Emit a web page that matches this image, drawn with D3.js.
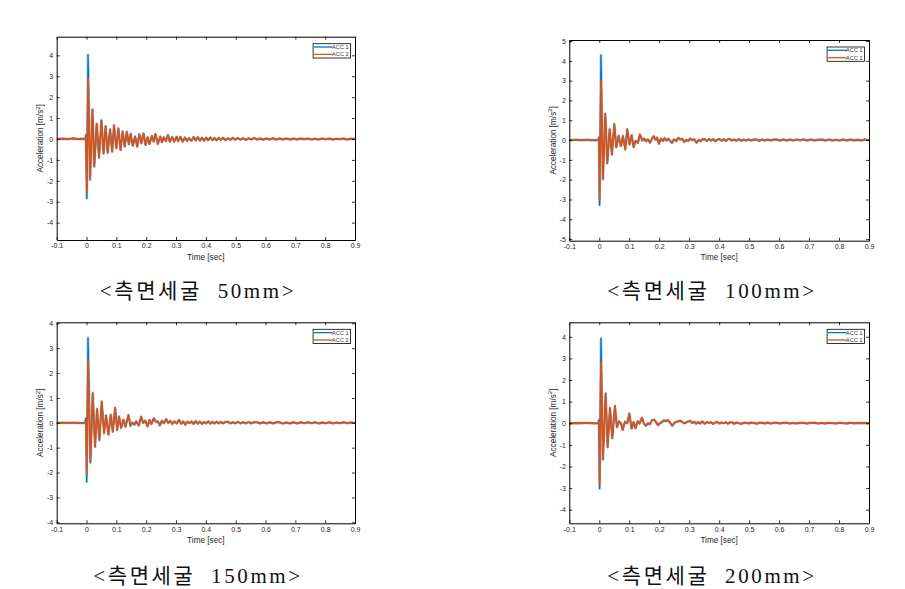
<!DOCTYPE html>
<html><head><meta charset="utf-8">
<script src="https://cdn.jsdelivr.net/npm/d3@7"></script>
<style>body{margin:0;background:#fff;} svg{display:block;}</style>
</head><body>
<svg id="c" width="905" height="589"></svg>
<script>
// ---------------- DATA ----------------
const seriesNames = ["ACC 1", "ACC 2"];
const captions = ["<측면세굴  50mm>", "<측면세굴  100mm>", "<측면세굴  150mm>", "<측면세굴  200mm>"];
const xLabel = "Time [sec]";
const yLabelMain = "Acceleration [m/s";
const yLabelSup = "2";
const yLabelEnd = "]";
const xTicks = [-0.1, 0, 0.1, 0.2, 0.3, 0.4, 0.5, 0.6, 0.7, 0.8, 0.9];
const xTickLabels = ["-0.1", "0", "0.1", "0.2", "0.3", "0.4", "0.5", "0.6", "0.7", "0.8", "0.9"];
const yTicks4 = [-4, -3, -2, -1, 0, 1, 2, 3, 4];
const yTicks5 = [-5, -4, -3, -2, -1, 0, 1, 2, 3, 4, 5];
const xLimits = [-0.1, 0.9];
const yLimits = [[-4.83, 4.89], [-5.08, 5.05], [-4.04, 4.04], [-4.63, 4.67]];

const tailTime = [
  0.352, 0.359, 0.366, 0.373, 0.380, 0.387, 0.394, 0.401, 0.408, 0.415,
  0.422, 0.429, 0.436, 0.443, 0.450, 0.458, 0.466, 0.474, 0.482, 0.490,
  0.498, 0.507, 0.516, 0.525, 0.534, 0.543, 0.552, 0.562, 0.572, 0.582,
  0.592, 0.603, 0.614, 0.625, 0.636, 0.647, 0.658, 0.670, 0.682, 0.694,
  0.706, 0.718, 0.730, 0.742, 0.754, 0.766, 0.778, 0.790, 0.802, 0.814,
  0.826, 0.838, 0.850, 0.862, 0.874, 0.886, 0.900];

// Panel 1 (50mm)
const p1Time = [
  -0.1, -0.08, -0.06, -0.045, -0.03, -0.015, -0.004, -0.002,
  0.001, 0.005, 0.012, 0.020, 0.026, 0.034, 0.042, 0.050, 0.057, 0.064,
  0.071, 0.079, 0.086, 0.092, 0.100, 0.107, 0.114, 0.121, 0.128, 0.135,
  0.142, 0.148, 0.155, 0.163, 0.170, 0.177, 0.184, 0.191, 0.198, 0.205,
  0.211, 0.219, 0.225, 0.231, 0.239, 0.247, 0.253, 0.259, 0.266, 0.273,
  0.279, 0.287, 0.294, 0.302, 0.307, 0.315, 0.322, 0.330, 0.337, 0.343].concat(tailTime);
const p1Acc1 = [
  0, 0.01, 0, 0.02, -0.01, 0, 0, 0.2,
  -2.84, 4.02, -1.95, 1.42, -1.32, 0.70, -0.90, 0.90, -0.70, 0.60,
  -0.66, 0.47, -0.60, 0.66, -0.44, 0.50, -0.52, 0.36, -0.35, 0.34,
  -0.26, 0.25, -0.32, 0.12, -0.36, 0.23, -0.20, 0.26, -0.28, 0.09,
  -0.23, 0.15, -0.12, 0.23, -0.23, 0.12, -0.15, 0.09, -0.11, 0.18,
  -0.12, 0.09, -0.12, 0.11, -0.10, 0.10, -0.12, 0.07, -0.09, 0.04,
  -0.08, 0.09, -0.07, 0.09, -0.07, 0.06, -0.08, 0.06, -0.06, 0.07,
  -0.05, 0.05, -0.06, 0.05, -0.05, 0.06, -0.05, 0.04, -0.04, 0.05,
  -0.04, 0.04, -0.03, 0.04, -0.04, 0.03, -0.03, 0.05, -0.02, 0.02,
  -0.03, 0.03, -0.02, 0.03, -0.03, 0.02, -0.02, 0.03, -0.03, 0.02,
  -0.02, 0.03, -0.01, 0.02, -0.03, 0.01, -0.02, 0.03, -0.01, 0.02,
  -0.03, 0.02, -0.01, 0.02, -0.03, 0.01, 0.0];
const p1Acc2 = [
  0, 0.02, -0.01, 0.04, 0, 0.01, 0, 0.05,
  -2.52, 2.90, -1.88, 1.39, -1.29, 0.75, -0.88, 0.88, -0.69, 0.62,
  -0.65, 0.45, -0.62, 0.65, -0.45, 0.51, -0.53, 0.35, -0.36, 0.35,
  -0.25, 0.24, -0.33, 0.11, -0.37, 0.22, -0.21, 0.27, -0.29, 0.08,
  -0.24, 0.14, -0.13, 0.24, -0.24, 0.11, -0.16, 0.08, -0.10, 0.19,
  -0.13, 0.08, -0.13, 0.10, -0.10, 0.11, -0.13, 0.06, -0.10, 0.03,
  -0.09, 0.10, -0.06, 0.08, -0.08, 0.05, -0.09, 0.07, -0.05, 0.08,
  -0.06, 0.04, -0.07, 0.06, -0.04, 0.05, -0.06, 0.03, -0.05, 0.06,
  -0.03, 0.05, -0.04, 0.03, -0.05, 0.04, -0.02, 0.04, -0.03, 0.03,
  -0.04, 0.02, -0.03, 0.04, -0.02, 0.03, -0.03, 0.02, -0.02, 0.03,
  -0.03, 0.02, -0.02, 0.03, -0.02, 0.02, -0.03, 0.02, -0.02, 0.03,
  -0.02, 0.01, -0.02, 0.03, -0.02, 0.02, 0.0];

// Panel 2 (100mm)
const p2Time = [
  -0.1, -0.08, -0.06, -0.04, -0.02, -0.004, -0.001,
  0.001, 0.0057, 0.0123, 0.0201, 0.0268, 0.0346, 0.0423, 0.0501, 0.0568, 0.0645,
  0.0723, 0.079, 0.0868, 0.0934, 0.101, 0.108, 0.1145, 0.121, 0.129, 0.1357,
  0.1434, 0.149, 0.1557, 0.1623, 0.169, 0.1746, 0.1812, 0.1879, 0.1923, 0.199,
  0.2057, 0.2123, 0.2179, 0.2235, 0.2301, 0.2368, 0.2424, 0.249, 0.2568, 0.2635,
  0.2701, 0.2768, 0.2835, 0.29, 0.2968, 0.3035, 0.31, 0.3168, 0.3245, 0.3312,
  0.3379, 0.3434].concat(tailTime);
const p2Acc1 = [
  0, 0.02, 0, 0.01, -0.01, 0, 0.15,
  -3.28, 4.29, -1.98, 1.33, -1.18, 0.55, -0.74, 0.82, -0.37, 0.22,
  -0.30, 0.21, -0.47, 0.55, -0.23, 0.25, -0.35, -0.04, -0.15, 0.28,
  -0.03, 0.08, -0.06, 0.04, -0.13, 0.03, 0.19, 0.01, 0.13, -0.18,
  0.08, -0.04, 0.10, -0.03, 0.06, -0.04, -0.14, 0.04, -0.06, 0.11,
  0.03, 0.06, -0.09, 0.01, -0.04, 0.08, -0.01, 0.04, -0.13, 0.01,
  -0.06, 0.02,
  0.04, -0.05, 0.05, -0.03, 0.05, -0.05, 0.03, 0.04, -0.04, 0.05,
  -0.04, 0.04, 0.05, -0.03, 0.03, -0.03, 0.04, -0.04, 0.02, -0.03,
  0.03, -0.02, 0.03, 0.02, -0.03, 0.03, -0.03, 0.02, -0.02, 0.03,
  0.02, -0.03, 0.03, -0.02, 0.02, -0.03, 0.03, -0.01, 0.03, -0.03,
  0.03, -0.02, 0.01, 0.02, -0.03, 0.03, -0.02, 0.01, -0.03, 0.02,
  -0.03, 0.03, -0.02, 0.01, -0.03, 0.03, 0.0];
const p2Acc2 = [
  0, 0.01, -0.01, 0.02, 0, 0.01, 0.05,
  -3.03, 3.04, -1.92, 1.31, -1.16, 0.54, -0.73, 0.80, -0.36, 0.20,
  -0.31, 0.20, -0.48, 0.54, -0.22, 0.24, -0.36, -0.05, -0.14, 0.29,
  -0.02, 0.07, -0.05, 0.03, -0.14, 0.02, 0.20, 0.02, 0.12, -0.19,
  0.07, -0.05, 0.09, -0.02, 0.07, -0.05, -0.15, 0.03, -0.05, 0.12,
  0.02, 0.07, -0.10, 0.0, -0.05, 0.07, 0.0, 0.03, -0.14, 0.0,
  -0.05, 0.03,
  0.05, -0.04, 0.06, -0.02, 0.04, -0.06, 0.02, 0.05, -0.03, 0.04,
  -0.05, 0.03, 0.06, -0.02, 0.02, -0.04, 0.05, -0.03, 0.03, -0.02,
  0.04, -0.03, 0.02, 0.03, -0.04, 0.02, -0.02, 0.03, -0.03, 0.02,
  0.03, -0.02, 0.02, -0.03, 0.03, -0.02, 0.02, -0.02, 0.04, -0.02,
  0.02, -0.03, 0.02, 0.03, -0.02, 0.02, -0.03, 0.02, -0.02, 0.03,
  -0.02, 0.02, -0.03, 0.02, -0.02, 0.02, 0.0];

// Panel 3 (150mm)
const p3Time = [
  -0.1, -0.08, -0.06, -0.04, -0.02, -0.005, -0.0017,
  0.0006, 0.005, 0.0129, 0.0207, 0.0286, 0.0353, 0.0431, 0.051, 0.0588, 0.0655,
  0.0734, 0.0812, 0.0879, 0.0958, 0.1025, 0.1092, 0.1159, 0.1238, 0.1305, 0.1406,
  0.1473, 0.154, 0.1607, 0.1663, 0.1753, 0.1831, 0.1898, 0.1966, 0.2044, 0.2111,
  0.2178, 0.2257, 0.2324, 0.2391, 0.2458, 0.2526, 0.2593, 0.2671, 0.2738, 0.2806,
  0.2873, 0.294, 0.303, 0.3097, 0.3175, 0.3242, 0.331, 0.3377, 0.3455].concat(tailTime);
const p3Acc1 = [
  0, 0, 0.01, 0, -0.01, 0, 0.19,
  -2.37, 3.41, -1.60, 1.20, -0.97, 0.55, -0.70, 0.86, -0.42, 0.30,
  -0.47, 0.33, -0.36, 0.60, -0.29, 0.26, -0.20, 0.13, -0.16, 0.31,
  -0.12, 0.01, -0.07, 0.06, -0.11, 0.24, 0.0, 0.09, -0.14, 0.11,
  -0.05, 0.18, 0.04, 0.06, -0.10, 0.09, -0.02, 0.14, 0.0, 0.07,
  -0.05, 0.06, -0.02, 0.11, -0.04, 0.06, -0.07, 0.04, -0.02,
  0.05, -0.05, 0.06, -0.04, 0.06, -0.04, 0.03, -0.03, 0.05, -0.03,
  0.04, -0.02, 0.04, -0.03, 0.03, -0.02, 0.04, 0.04, -0.03, 0.02,
  -0.02, 0.03, -0.03, 0.02, -0.03, 0.03, -0.02, 0.03, 0.02, -0.03,
  0.03, -0.02, 0.02, -0.03, 0.03, 0.02, -0.03, 0.01, -0.02, 0.03,
  -0.03, 0.02, -0.01, 0.03, -0.02, 0.02, -0.03, 0.01, -0.01, 0.03,
  -0.02, 0.01, -0.02, 0.03, -0.01, 0.02, 0.0];
const p3Acc2 = [
  0, 0.01, -0.01, 0.01, 0, 0.01, 0.05,
  -2.08, 2.52, -1.55, 1.19, -0.95, 0.56, -0.68, 0.85, -0.41, 0.29,
  -0.48, 0.32, -0.35, 0.61, -0.28, 0.25, -0.21, 0.12, -0.15, 0.32,
  -0.11, 0.0, -0.08, 0.05, -0.10, 0.25, -0.01, 0.08, -0.15, 0.12,
  -0.04, 0.19, 0.05, 0.05, -0.11, 0.08, -0.01, 0.15, -0.01, 0.08,
  -0.04, 0.05, -0.03, 0.12, -0.03, 0.05, -0.08, 0.05, -0.01,
  0.06, -0.04, 0.07, -0.03, 0.05, -0.05, 0.04, -0.02, 0.06, -0.04,
  0.03, -0.03, 0.05, -0.02, 0.04, -0.03, 0.03, 0.05, -0.02, 0.03,
  -0.03, 0.04, -0.02, 0.03, -0.02, 0.04, -0.03, 0.02, 0.03, -0.02,
  0.02, -0.03, 0.03, -0.02, 0.02, 0.03, -0.02, 0.02, -0.03, 0.02,
  -0.02, 0.03, -0.02, 0.02, -0.01, 0.03, -0.02, 0.02, -0.02, 0.02,
  -0.03, 0.02, -0.01, 0.02, -0.02, 0.01, 0.0];

// Panel 4 (200mm)
const p4Time = [
  -0.1, -0.08, -0.06, -0.04, -0.02, -0.004, -0.001,
  0.0012, 0.0057, 0.0123, 0.0212, 0.0279, 0.0357, 0.0434, 0.0523, 0.059, 0.0657,
  0.0723, 0.0779, 0.0857, 0.0934, 0.1001, 0.1079, 0.1146, 0.1212, 0.1279, 0.1346,
  0.1424, 0.149, 0.1557, 0.1624, 0.169, 0.1757, 0.1824, 0.189, 0.1957, 0.2024,
  0.209, 0.2157, 0.2224, 0.229, 0.2368, 0.2435, 0.2501, 0.2568, 0.2635, 0.2701,
  0.2768, 0.2835, 0.2901, 0.2968, 0.3035, 0.3101, 0.3168, 0.3235, 0.3301, 0.3368,
  0.3435].concat(tailTime);
const p4Acc1 = [
  0, 0, 0.01, 0.01, -0.01, 0, 0.15,
  -3.02, 3.92, -1.68, 1.38, -1.12, 0.71, -0.70, 0.79, -0.19, 0.08,
  -0.01, -0.31, 0.07, 0.01, 0.44, -0.24, 0.05, -0.23, 0.10, -0.01,
  0.25, -0.01, -0.11, 0.0, -0.04, 0.13, 0.16, 0.07, -0.08, 0.0,
  0.05, 0.13, 0.10, 0.14, 0.02, -0.11, 0.0, 0.07, 0.08, 0.11,
  0.07, -0.01, 0.04, 0.08, 0.10, 0.01, 0.07, -0.02, 0.05, -0.01,
  0.08,
  -0.02, 0.05, 0.02, 0.04, -0.03, 0.04, 0.05, -0.01, 0.03, 0.01,
  0.04, -0.02, 0.04, 0.04, -0.03, 0.03, 0.01, -0.03, 0.02, 0.03,
  -0.01, 0.03, 0.02, -0.02, 0.02, 0.03, -0.01, 0.03, -0.02, 0.03,
  0.02, -0.01, 0.03, 0.02, -0.02, 0.01, -0.01, 0.02, 0.02, -0.01,
  0.03, 0.02, -0.02, 0.01, -0.01, 0.03, 0.0, -0.01, 0.03, 0.0,
  -0.01, 0.03, -0.01, 0.01, 0.0, 0.01, 0.0];
const p4Acc2 = [
  0, 0.01, -0.01, 0.02, 0, 0.01, 0.05,
  -2.87, 2.84, -1.64, 1.37, -1.10, 0.70, -0.68, 0.80, -0.18, 0.09,
  0.0, -0.30, 0.06, 0.0, 0.45, -0.25, 0.06, -0.22, 0.09, -0.02,
  0.26, -0.02, -0.12, -0.01, -0.05, 0.14, 0.17, 0.06, -0.09, -0.01,
  0.06, 0.14, 0.09, 0.15, 0.01, -0.12, 0.01, 0.06, 0.09, 0.12,
  0.06, 0.0, 0.03, 0.09, 0.11, 0.02, 0.06, -0.03, 0.06, -0.02,
  0.09,
  -0.03, 0.06, 0.01, 0.05, -0.04, 0.03, 0.06, -0.02, 0.04, 0.0,
  0.05, -0.03, 0.03, 0.05, -0.02, 0.04, 0.0, -0.04, 0.03, 0.02,
  -0.02, 0.04, 0.01, -0.03, 0.03, 0.02, -0.02, 0.04, -0.01, 0.02,
  0.03, -0.02, 0.02, 0.03, -0.01, 0.02, -0.02, 0.03, 0.01, -0.02,
  0.02, 0.03, -0.01, 0.02, -0.02, 0.02, 0.01, -0.02, 0.02, 0.01,
  -0.02, 0.02, 0.0, 0.02, -0.01, 0.02, 0.0];

// ---------------- LAYOUT ----------------
const panels = [
  {time: p1Time, a1: p1Acc1, a2: p1Acc2, yTicks: yTicks4, lim: yLimits[0], cap: captions[0],
   l: 56.7, r: 355, t: 36.7, b: 240, capX: 198, capY: 298},
  {time: p2Time, a1: p2Acc1, a2: p2Acc2, yTicks: yTicks5, lim: yLimits[1], cap: captions[1],
   l: 569.3, r: 869, t: 40, b: 240.7, capX: 712, capY: 298},
  {time: p3Time, a1: p3Acc1, a2: p3Acc2, yTicks: yTicks4, lim: yLimits[2], cap: captions[2],
   l: 56.7, r: 355, t: 322.3, b: 523.3, capX: 198, capY: 583},
  {time: p4Time, a1: p4Acc1, a2: p4Acc2, yTicks: yTicks4, lim: yLimits[3], cap: captions[3],
   l: 569.3, r: 869, t: 322.3, b: 523.3, capX: 712, capY: 583}
];

const blue = "#0072BD", orange = "#D95319";
const svg = d3.select("#c");
svg.append("rect").attr("width", 905).attr("height", 589).attr("fill", "#fff");

panels.forEach((p, i) => {
  const x = d3.scaleLinear().domain(xLimits).range([p.l, p.r]);
  const y = d3.scaleLinear().domain(p.lim).range([p.b, p.t]);
  const g = svg.append("g");

  const clipId = "clip" + i;
  svg.append("clipPath").attr("id", clipId).append("rect")
    .attr("x", p.l).attr("y", p.t).attr("width", p.r - p.l).attr("height", p.b - p.t);

  const n = Math.min(p.time.length, p.a1.length, p.a2.length);
  const pts1 = d3.range(n).map(k => [p.time[k], p.a1[k]]);
  const pts2 = d3.range(n).map(k => [p.time[k], p.a2[k]]);
  const line = d3.line().x(d => x(d[0])).y(d => y(d[1]));

  const plot = g.append("g").attr("clip-path", `url(#${clipId})`);
  plot.append("path").attr("d", line(pts1)).attr("fill", "none")
    .attr("stroke", blue).attr("stroke-width", 2.8).attr("stroke-opacity", 0.35).attr("stroke-linejoin", "round");
  plot.append("path").attr("d", line(pts1)).attr("fill", "none")
    .attr("stroke", blue).attr("stroke-width", 1.3).attr("stroke-linejoin", "round");
  plot.append("path").attr("d", line(pts2)).attr("fill", "none")
    .attr("stroke", orange).attr("stroke-width", 1.8).attr("stroke-linejoin", "round");

  const tickColor = "#262626";
  const fmtY = d => String(d);
  const axL = g.append("g").attr("transform", `translate(${p.l},0)`)
    .call(d3.axisLeft(y).tickValues(p.yTicks).tickFormat(fmtY).tickSize(-3).tickSizeOuter(0).tickPadding(3.5));
  const axR = g.append("g").attr("transform", `translate(${p.r},0)`)
    .call(d3.axisRight(y).tickValues(p.yTicks).tickFormat("").tickSize(-3).tickSizeOuter(0));
  const axB = g.append("g").attr("transform", `translate(0,${p.b})`)
    .call(d3.axisBottom(x).tickValues(xTicks).tickFormat((d, k) => xTickLabels[k]).tickSize(-3).tickSizeOuter(0).tickPadding(3.5));
  const axT = g.append("g").attr("transform", `translate(0,${p.t})`)
    .call(d3.axisTop(x).tickValues(xTicks).tickFormat("").tickSize(-3).tickSizeOuter(0));
  [axL, axR, axB, axT].forEach(a => {
    a.selectAll("path.domain").attr("stroke", "#000").attr("stroke-width", 1);
    a.selectAll(".tick line").attr("stroke", "#000").attr("stroke-width", 0.8);
    a.selectAll("text").attr("font-family", "Liberation Sans, Arial, sans-serif")
      .attr("font-size", 7).attr("fill", tickColor);
  });

  // axis labels
  g.append("text").attr("x", (p.l + p.r) / 2).attr("y", p.b + 19.5)
    .attr("text-anchor", "middle").attr("font-family", "Liberation Sans, Arial, sans-serif")
    .attr("font-size", 8.2).attr("fill", tickColor).text(xLabel);
  const yl = g.append("text")
    .attr("transform", `translate(${p.l - 13.5},${(p.t + p.b) / 2}) rotate(-90)`)
    .attr("text-anchor", "middle").attr("font-family", "Liberation Sans, Arial, sans-serif")
    .attr("font-size", 8.2).attr("fill", tickColor);
  yl.append("tspan").text(yLabelMain);
  yl.append("tspan").attr("font-size", 6).attr("dy", -3.5).text(yLabelSup);
  yl.append("tspan").attr("dy", 3.5).text(yLabelEnd);

  // legend
  const lw = 37.5, lh = 14.3;
  const lx = p.r - 4.4 - lw, ly = p.t + 7;
  const lg = g.append("g");
  lg.append("rect").attr("x", lx).attr("y", ly).attr("width", lw).attr("height", lh)
    .attr("fill", "#fff").attr("stroke", "#000").attr("stroke-width", 0.8);
  [blue, orange].forEach((c, k) => {
    const yy = ly + 3.3 + k * 7.4;
    lg.append("line").attr("x1", lx + 0.8).attr("x2", lx + 19.5).attr("y1", yy).attr("y2", yy)
      .attr("stroke", c).attr("stroke-width", 1.3);
    lg.append("text").attr("x", lx + lw - 2).attr("y", yy + 2)
      .attr("text-anchor", "end").attr("font-family", "Liberation Sans, Arial, sans-serif")
      .attr("font-size", 5.6).attr("fill", "#333").text(seriesNames[k]);
  });

  // caption
  svg.append("text").attr("x", p.capX).attr("y", p.capY).attr("text-anchor", "middle")
    .attr("font-family", "Liberation Serif, Noto Sans CJK KR, serif")
    .attr("font-size", 21).attr("fill", "#111").attr("letter-spacing", 2.6)
    .style("white-space", "pre").text(p.cap);
});
</script>
</body></html>
